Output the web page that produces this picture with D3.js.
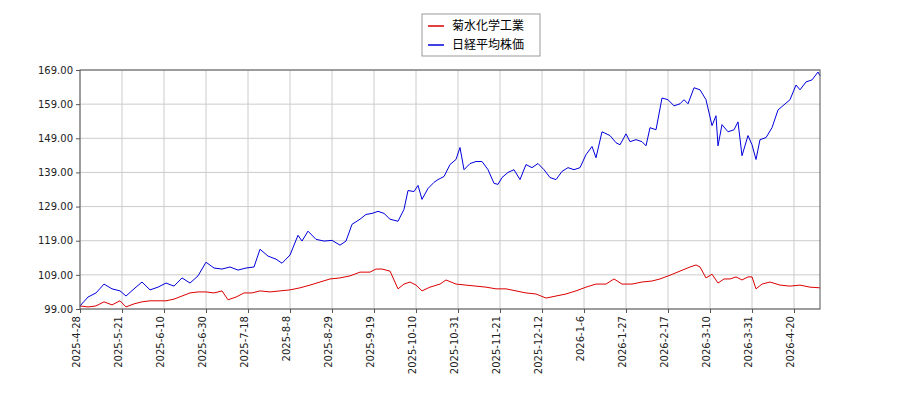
<!DOCTYPE html>
<html><head><meta charset="utf-8">
<script src="https://cdn.jsdelivr.net/npm/d3@7"></script>
<style>body{margin:0;background:#fff;font-family:"DejaVu Sans",sans-serif;}</style>
</head><body><div id="chart"></div>
<script>
var seriesNames = ["菊水化学工業", "日経平均株価"];
var seriesColors = ["#dd0000", "#0000dd"];
var yTicks = [99, 109, 119, 129, 139, 149, 159, 169];
// the axis is spaced by trading session, one label every 21 steps
var xTickLabels = ["2025-4-28","2025-5-21","2025-6-10","2025-6-30","2025-7-18","2025-8-8","2025-8-29","2025-9-19","2025-10-10","2025-10-31","2025-11-21","2025-12-12","2026-1-6","2026-1-27","2026-2-17","2026-3-10","2026-3-31","2026-4-20"];
var xMax = 370;

// positions along the axis (same units as the ticks)
var nikkeiDays = [0,4,8,12,16,20,23,27,31,35,39,43,47,51,55,59,63,67,71,75,79,83,87,90,94,98,101,105,109,111,114,118,122,126,130,133,136,140,143,146,149,152,155,159,162,164,167,169,171,174,177,179,182,185,188,190,192,195,198,201,204,207,209,211,214,217,220,223,226,229,232,235,238,241,244,247,250,253,256,258,261,265,268,270,273,275,278,281,283,285,288,291,294,297,300,302,304,307,310,313,316,318,319,321,324,327,329,331,334,336,338,340,343,346,349,352,355,358,360,363,366,369,370];
var nikkeiVals = [99.9,102.5,103.7,106.3,104.9,104.3,102.8,104.9,106.9,104.6,105.4,106.6,105.7,108.1,106.6,108.7,112.7,111.0,110.7,111.3,110.4,111.0,111.3,116.5,114.5,113.6,112.4,114.8,120.6,118.9,121.8,119.4,118.9,119.1,117.7,118.9,123.8,125.3,126.7,127.0,127.6,127.0,125.3,124.7,128.2,133.7,133.4,135.2,131.1,134.3,136.1,136.9,137.8,141.3,142.8,146.3,139.8,141.6,142.2,142.2,139.8,135.8,135.5,137.5,139.0,139.8,136.9,141.3,140.4,141.6,139.8,137.5,136.9,139.3,140.4,139.8,140.4,144.2,146.6,143.3,150.9,149.8,147.7,147.1,150.3,148.0,148.6,148.0,146.8,152.1,151.5,160.8,160.3,158.5,159.1,160.3,159.1,163.8,163.2,160.3,152.7,155.6,146.8,153.0,150.9,151.5,153.8,143.9,149.8,147.1,142.8,148.6,149.2,152.1,157.3,158.8,160.3,164.6,163.2,165.5,166.1,168.4,167.3];

var kikusuiDays = [0,4,8,12,16,20,23,27,31,35,39,43,47,51,55,59,63,67,71,74,78,82,86,90,95,100,105,110,115,120,125,130,135,140,145,148,151,155,159,162,165,168,171,175,180,183,188,193,198,203,208,213,218,223,228,233,238,243,248,253,258,263,267,271,276,281,286,290,295,300,305,308,310,313,316,319,322,325,328,331,334,336,338,341,345,350,355,360,365,370];
var kikusuiVals = [99.9,99.6,99.9,101.1,100.2,101.4,99.6,100.5,101.1,101.4,101.4,101.4,101.9,102.8,103.7,104.0,104.0,103.7,104.3,101.7,102.5,103.7,103.7,104.3,104.0,104.3,104.6,105.2,106.0,106.9,107.8,108.1,108.7,109.8,109.8,110.7,110.7,110.1,104.9,106.3,106.9,106.0,104.3,105.4,106.3,107.5,106.3,106.0,105.7,105.4,104.9,104.9,104.3,103.7,103.4,102.2,102.8,103.4,104.3,105.4,106.3,106.3,107.8,106.3,106.3,106.9,107.2,107.8,108.9,110.1,111.3,111.9,111.3,108.1,109.2,106.6,107.8,107.8,108.4,107.5,108.4,108.4,104.9,106.3,106.9,106.0,105.7,106.0,105.4,105.2];

function toPts(days, vals) {
  return days.map(function(d, i) { return { pos: d, value: vals[i] }; });
}
var series = [toPts(kikusuiDays, kikusuiVals), toPts(nikkeiDays, nikkeiVals)];

var svg = d3.select("#chart").append("svg").attr("width", 900).attr("height", 400);
var margin = { top: 70, left: 80, right: 80, bottom: 91 };
var width = 900 - margin.left - margin.right;
var height = 400 - margin.top - margin.bottom;
var g = svg.append("g").attr("transform", `translate(${margin.left},${margin.top})`);

var x = d3.scaleLinear().domain([0, xMax]).range([0, width]);
var y = d3.scaleLinear().domain([99, 169]).range([height, 0]);

var xTicks = xTickLabels.map(function(d, i) { return i * 21; });

// grid
g.selectAll(".gx").data(xTicks).enter().append("line")
  .attr("x1", d => x(d)).attr("x2", d => x(d)).attr("y1", 0).attr("y2", height)
  .attr("stroke", "#cccccc");
g.selectAll(".gy").data(yTicks).enter().append("line")
  .attr("x1", 0).attr("x2", width).attr("y1", d => y(d)).attr("y2", d => y(d))
  .attr("stroke", "#cccccc");

var line = d3.line().x(d => x(d.pos)).y(d => y(d.value));
series.forEach(function(s, i) {
  g.append("path").datum(s).attr("d", line).attr("fill", "none")
    .attr("stroke", seriesColors[i]).attr("stroke-width", 1);
});

g.append("rect").attr("width", width).attr("height", height)
  .attr("fill", "none").attr("stroke", "#555");

var yAxis = g.append("g").call(d3.axisLeft(y).tickValues(yTicks).tickFormat(d3.format(".2f")).tickSize(4));
var xAxis = g.append("g").attr("transform", `translate(0,${height})`)
  .call(d3.axisBottom(x).tickValues(xTicks).tickFormat((d, i) => xTickLabels[i]).tickSize(4));
xAxis.selectAll("text").attr("transform", "rotate(-90)")
  .attr("text-anchor", "end").attr("x", -7).attr("y", -4).attr("dy", "0.35em");
[xAxis, yAxis].forEach(function(a) {
  a.select(".domain").remove();
  a.selectAll("text").attr("font-size", 10).attr("fill", "#222").attr("font-family", "DejaVu Sans");
  a.selectAll("line").attr("stroke", "#555");
});

// legend
var lg = svg.append("g").attr("transform", "translate(422,14)");
lg.append("rect").attr("width", 118).attr("height", 42).attr("fill", "#fff").attr("stroke", "#999");
seriesNames.forEach(function(n, i) {
  lg.append("line").attr("x1", 6).attr("x2", 22).attr("y1", 12 + i * 19).attr("y2", 12 + i * 19)
    .attr("stroke", seriesColors[i]).attr("stroke-width", 1.5);
  lg.append("text").attr("x", 30).attr("y", 12 + i * 19).attr("dy", "0.35em")
    .attr("font-size", 12).attr("font-family", "Noto Sans CJK JP").text(n);
});
</script></body></html>
